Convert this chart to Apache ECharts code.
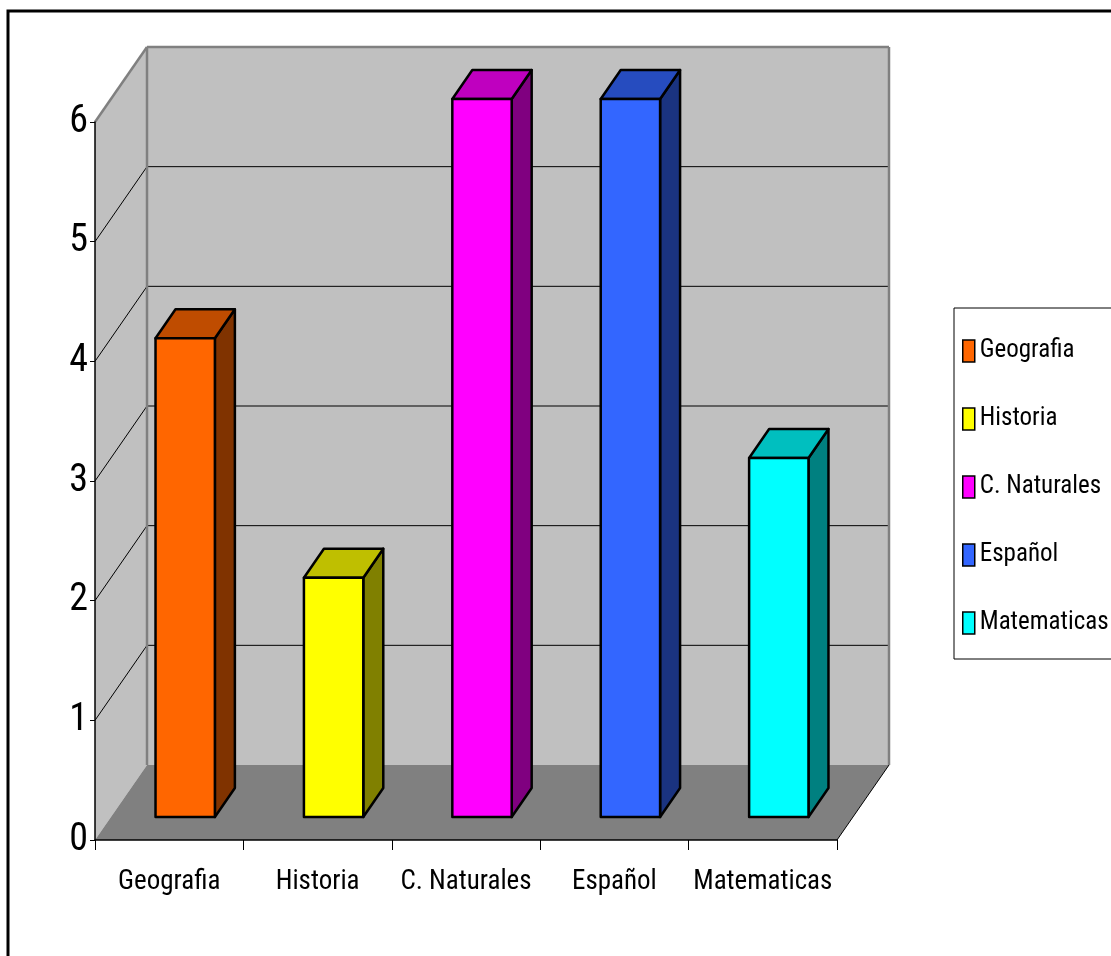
<!DOCTYPE html>
<html>
<head>
<meta charset="utf-8">
<script src="https://cdn.jsdelivr.net/npm/echarts@6/dist/echarts.min.js"></script>
<style>
html,body{margin:0;padding:0;background:#fff;}
#chart{width:1111px;height:956px;}
</style>
</head>
<body>
<div id="chart"></div>
<script>
// ---- data ----
const categories = ['Geografia', 'Historia', 'C. Naturales', 'Español', 'Matematicas'];
const values = [4, 2, 6, 6, 3];
const yTicks = [0, 1, 2, 3, 4, 5, 6];

// ---- styles ----
const frontColors = ['#ff6600', '#ffff00', '#ff00ff', '#3366ff', '#00ffff'];
const topColors   = ['#bf4c00', '#bfbf00', '#bf00bf', '#264cbf', '#00bfbf'];
const sideColors  = ['#803300', '#808000', '#800080', '#1a3380', '#008080'];
const FONT = "'Roboto Condensed', 'Liberation Sans', Arial, sans-serif";

const WALL_DX = 52, WALL_DY = -75;   // depth of back wall
const FRONT_DX = 16, FRONT_DY = -23; // bar front plane
const BAR_DX = 20, BAR_DY = -29;     // bar depth
const BAR_RATIO = 0.4;

const chart = echarts.init(document.getElementById('chart'), null, {renderer: 'canvas'});

function renderWalls(params, api) {
  const cs = params.coordSys;
  const x0 = cs.x, x1 = cs.x + cs.width, yt = cs.y, yb = cs.y + cs.height;
  const children = [];
  children.push({type: 'polygon', shape: {points: [[x0, yt], [x0 + WALL_DX, yt + WALL_DY], [x0 + WALL_DX, yb + WALL_DY], [x0, yb]]},
    style: {fill: '#c0c0c0'}});
  children.push({type: 'rect', shape: {x: x0 + WALL_DX, y: yt + WALL_DY, width: x1 - x0, height: yb - yt},
    style: {fill: '#c0c0c0'}});
  children.push({type: 'polygon', shape: {points: [[x0, yb], [x0 + WALL_DX, yb + WALL_DY], [x1 + WALL_DX, yb + WALL_DY], [x1, yb]]},
    style: {fill: '#808080'}});
  yTicks.forEach(function (v) {
    if (v === yTicks[0] || v === yTicks[yTicks.length - 1]) return;
    const y = api.coord([0, v])[1];
    children.push({type: 'line', shape: {x1: x0 + WALL_DX, y1: y + WALL_DY, x2: x1 + WALL_DX, y2: y + WALL_DY},
      style: {stroke: '#000', lineWidth: 1}});
    children.push({type: 'line', shape: {x1: x0, y1: y, x2: x0 + WALL_DX, y2: y + WALL_DY},
      style: {stroke: '#000', lineWidth: 1}});
  });
  const edge = {stroke: '#808080', lineWidth: 2.5};
  children.push({type: 'line', shape: {x1: x0, y1: yt, x2: x0 + WALL_DX, y2: yt + WALL_DY}, style: edge});
  children.push({type: 'line', shape: {x1: x0 + WALL_DX, y1: yt + WALL_DY, x2: x1 + WALL_DX, y2: yt + WALL_DY}, style: edge});
  children.push({type: 'line', shape: {x1: x0 + WALL_DX, y1: yt + WALL_DY, x2: x0 + WALL_DX, y2: yb + WALL_DY}, style: edge});
  children.push({type: 'line', shape: {x1: x1 + WALL_DX, y1: yt + WALL_DY, x2: x1 + WALL_DX, y2: yb + WALL_DY}, style: edge});
  children.push({type: 'line', shape: {x1: x1, y1: yb, x2: x1 + WALL_DX, y2: yb + WALL_DY},
    style: {stroke: '#000', lineWidth: 1}});
  return {type: 'group', children: children};
}

function makeBarRenderer(k) {
  return function (params, api) {
    const i = api.value(0), v = api.value(1);
    const base = api.coord([i, 0]);
    const top = api.coord([i, v]);
    const bw = api.size([1, 0])[0] * BAR_RATIO;
    const fx = base[0] + FRONT_DX - bw / 2;
    const ty = top[1] + FRONT_DY, by = base[1] + FRONT_DY;
    const stroke = {stroke: '#000', lineWidth: 2.5, lineJoin: 'round'};
    return {type: 'group', children: [
      {type: 'polygon', shape: {points: [[fx + bw, ty], [fx + bw + BAR_DX, ty + BAR_DY], [fx + bw + BAR_DX, by + BAR_DY], [fx + bw, by]]},
        style: Object.assign({fill: sideColors[k]}, stroke)},
      {type: 'polygon', shape: {points: [[fx, ty], [fx + BAR_DX, ty + BAR_DY], [fx + bw + BAR_DX, ty + BAR_DY], [fx + bw, ty]]},
        style: Object.assign({fill: topColors[k]}, stroke)},
      {type: 'rect', shape: {x: fx, y: ty, width: bw, height: by - ty},
        style: Object.assign({fill: frontColors[k]}, stroke)}
    ]};
  };
}

const series = [{
  type: 'custom', name: '__walls', z: 1, silent: true,
  renderItem: renderWalls, data: [[0, 0]], tooltip: {show: false}
}];
categories.forEach(function (c, k) {
  series.push({
    type: 'custom', name: c, z: 3,
    itemStyle: {color: frontColors[k]},
    renderItem: makeBarRenderer(k),
    data: [[k, values[k]]]
  });
});

chart.setOption({
  animation: false,
  backgroundColor: '#fff',
  grid: {left: 95, right: 274, top: 122, bottom: 116, containLabel: false},
  xAxis: {
    type: 'category', data: categories, z: 5,
    axisLine: {show: true, lineStyle: {color: '#000', width: 1.5}},
    axisTick: {show: true, length: 10, lineStyle: {color: '#000', width: 1}},
    axisLabel: {color: '#000', fontFamily: FONT, fontSize: 27, margin: 29, interval: 0},
    splitLine: {show: false}
  },
  yAxis: {
    type: 'value', min: 0, max: 6, interval: 1, z: 5,
    axisLine: {show: true, lineStyle: {color: '#000', width: 1.5}},
    axisTick: {show: true, length: 5, lineStyle: {color: '#000', width: 1}},
    axisLabel: {color: '#000', fontFamily: FONT, fontSize: 38, margin: 7},
    splitLine: {show: false}
  },
  legend: {
    data: categories, orient: 'vertical', left: 954, top: 308,
    padding: [27, 10, 20, 8], itemGap: 36, itemWidth: 12, itemHeight: 22,
    icon: 'rect', borderColor: '#000', borderWidth: 1,
    itemStyle: {borderColor: '#000', borderWidth: 1.5},
    textStyle: {color: '#000', fontFamily: FONT, fontSize: 25, lineHeight: 32},
    selectedMode: false
  },
  graphic: [{
    type: 'rect', shape: {x: 8, y: 11, width: 1300, height: 1100},
    style: {fill: null, stroke: '#000', lineWidth: 3}, silent: true, z: 100
  }],
  series: series
});
</script>
</body>
</html>
